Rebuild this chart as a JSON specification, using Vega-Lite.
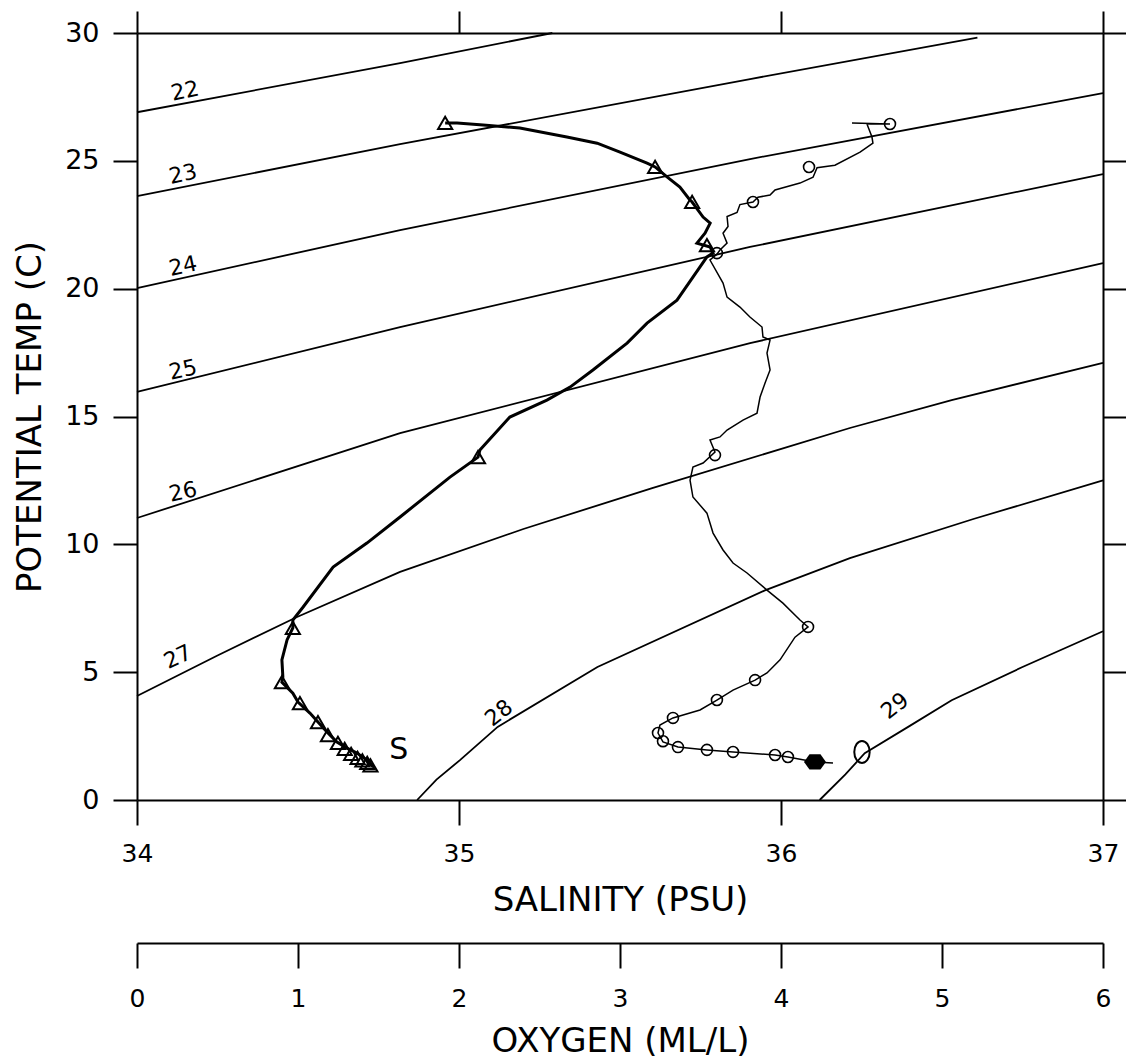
{
  "$schema": "https://vega.github.io/schema/vega-lite/v6.json",
  "width": 966,
  "height": 767,
  "autosize": {"type": "none"},
  "padding": {"left": 137, "top": 33, "right": 23, "bottom": 263},
  "background": "white",
  "config": {
    "view": {"stroke": null},
    "axis": {
      "grid": false,
      "labelFlush": false,
      "labelOverlap": false,
      "domainColor": "black",
      "domainWidth": 2,
      "tickColor": "black",
      "tickWidth": 2,
      "labelColor": "black",
      "titleColor": "black",
      "labelFont": "DejaVu Sans",
      "titleFont": "DejaVu Sans",
      "titleFontWeight": "normal"
    }
  },
  "datasets": {
    "contours": [
      {"sigma": 22, "S": 34.0, "T": 26.9},
      {"sigma": 22, "S": 34.817, "T": 28.82},
      {"sigma": 22, "S": 35.29, "T": 30.0},
      {"sigma": 23, "S": 34.0, "T": 23.62},
      {"sigma": 23, "S": 34.817, "T": 25.65},
      {"sigma": 23, "S": 35.904, "T": 28.2},
      {"sigma": 23, "S": 36.61, "T": 29.82},
      {"sigma": 24, "S": 34.0, "T": 20.02},
      {"sigma": 24, "S": 34.817, "T": 22.29},
      {"sigma": 24, "S": 35.904, "T": 25.07},
      {"sigma": 24, "S": 37.0, "T": 27.65},
      {"sigma": 25, "S": 34.0, "T": 15.96},
      {"sigma": 25, "S": 34.817, "T": 18.5},
      {"sigma": 25, "S": 35.904, "T": 21.63},
      {"sigma": 25, "S": 37.0, "T": 24.48},
      {"sigma": 26, "S": 34.0, "T": 11.03},
      {"sigma": 26, "S": 34.817, "T": 14.35},
      {"sigma": 26, "S": 35.904, "T": 17.87},
      {"sigma": 26, "S": 37.0, "T": 21.0},
      {"sigma": 27, "S": 34.0, "T": 4.07},
      {"sigma": 27, "S": 34.25, "T": 5.65},
      {"sigma": 27, "S": 34.497, "T": 7.16},
      {"sigma": 27, "S": 34.817, "T": 8.92},
      {"sigma": 27, "S": 35.2, "T": 10.6},
      {"sigma": 27, "S": 35.6, "T": 12.2},
      {"sigma": 27, "S": 36.214, "T": 14.55},
      {"sigma": 27, "S": 36.53, "T": 15.64},
      {"sigma": 27, "S": 37.0, "T": 17.1},
      {"sigma": 28, "S": 34.87, "T": 0.0},
      {"sigma": 28, "S": 34.93, "T": 0.8},
      {"sigma": 28, "S": 35.003, "T": 1.56},
      {"sigma": 28, "S": 35.12, "T": 2.86},
      {"sigma": 28, "S": 35.43, "T": 5.2},
      {"sigma": 28, "S": 35.95, "T": 8.2},
      {"sigma": 28, "S": 36.214, "T": 9.46},
      {"sigma": 28, "S": 36.6, "T": 11.0},
      {"sigma": 28, "S": 37.0, "T": 12.5},
      {"sigma": 29, "S": 36.12, "T": 0.0},
      {"sigma": 29, "S": 36.2, "T": 1.0},
      {"sigma": 29, "S": 36.26, "T": 1.83},
      {"sigma": 29, "S": 36.4, "T": 2.9},
      {"sigma": 29, "S": 36.53, "T": 3.9},
      {"sigma": 29, "S": 36.75, "T": 5.2},
      {"sigma": 29, "S": 37.0, "T": 6.6}
    ],
    "labels": [
      {"label": "22", "S": 34.149, "T": 27.73},
      {"label": "23", "S": 34.143, "T": 24.48},
      {"label": "24", "S": 34.143, "T": 20.88},
      {"label": "25", "S": 34.143, "T": 16.82},
      {"label": "26", "S": 34.143, "T": 12.05},
      {"label": "27", "S": 34.127, "T": 5.59},
      {"label": "28", "S": 35.124, "T": 3.4},
      {"label": "29", "S": 36.354, "T": 3.68}
    ],
    "salinity": [
      {"i": 1, "S": 34.957, "T": 26.48},
      {"i": 2, "S": 34.994, "T": 26.48},
      {"i": 3, "S": 35.075, "T": 26.4},
      {"i": 4, "S": 35.189, "T": 26.28},
      {"i": 5, "S": 35.335, "T": 25.93},
      {"i": 6, "S": 35.429, "T": 25.69},
      {"i": 7, "S": 35.5, "T": 25.34},
      {"i": 8, "S": 35.584, "T": 24.91},
      {"i": 9, "S": 35.609, "T": 24.76},
      {"i": 10, "S": 35.646, "T": 24.37},
      {"i": 11, "S": 35.686, "T": 23.97},
      {"i": 12, "S": 35.717, "T": 23.47},
      {"i": 13, "S": 35.724, "T": 23.39},
      {"i": 14, "S": 35.758, "T": 22.8},
      {"i": 15, "S": 35.78, "T": 22.56},
      {"i": 16, "S": 35.764, "T": 22.17},
      {"i": 17, "S": 35.739, "T": 21.78},
      {"i": 18, "S": 35.78, "T": 21.63},
      {"i": 19, "S": 35.789, "T": 21.39},
      {"i": 20, "S": 35.77, "T": 21.24},
      {"i": 21, "S": 35.677, "T": 19.55},
      {"i": 22, "S": 35.584, "T": 18.65},
      {"i": 23, "S": 35.522, "T": 17.87},
      {"i": 24, "S": 35.416, "T": 16.82},
      {"i": 25, "S": 35.345, "T": 16.15},
      {"i": 26, "S": 35.273, "T": 15.64},
      {"i": 27, "S": 35.158, "T": 14.98},
      {"i": 28, "S": 35.065, "T": 13.69},
      {"i": 29, "S": 35.059, "T": 13.41},
      {"i": 30, "S": 34.972, "T": 12.63},
      {"i": 31, "S": 34.817, "T": 11.07},
      {"i": 32, "S": 34.714, "T": 10.05},
      {"i": 33, "S": 34.609, "T": 9.11},
      {"i": 34, "S": 34.516, "T": 7.55},
      {"i": 35, "S": 34.484, "T": 7.04},
      {"i": 36, "S": 34.484, "T": 6.73},
      {"i": 37, "S": 34.466, "T": 6.26},
      {"i": 38, "S": 34.45, "T": 5.48},
      {"i": 39, "S": 34.453, "T": 4.81},
      {"i": 40, "S": 34.45, "T": 4.61},
      {"i": 41, "S": 34.484, "T": 4.18},
      {"i": 42, "S": 34.5, "T": 3.83},
      {"i": 43, "S": 34.537, "T": 3.4},
      {"i": 44, "S": 34.562, "T": 3.05},
      {"i": 45, "S": 34.593, "T": 2.62},
      {"i": 46, "S": 34.621, "T": 2.27},
      {"i": 47, "S": 34.652, "T": 2.03},
      {"i": 48, "S": 34.683, "T": 1.84},
      {"i": 49, "S": 34.714, "T": 1.56},
      {"i": 50, "S": 34.733, "T": 1.29}
    ],
    "triangles": [
      {"S": 34.957, "T": 26.48},
      {"S": 35.609, "T": 24.76},
      {"S": 35.724, "T": 23.39},
      {"S": 35.77, "T": 21.7},
      {"S": 35.059, "T": 13.41},
      {"S": 34.484, "T": 6.73},
      {"S": 34.45, "T": 4.61},
      {"S": 34.506, "T": 3.79},
      {"S": 34.562, "T": 3.05},
      {"S": 34.593, "T": 2.54},
      {"S": 34.624, "T": 2.23},
      {"S": 34.645, "T": 2.0},
      {"S": 34.665, "T": 1.8},
      {"S": 34.685, "T": 1.65},
      {"S": 34.7, "T": 1.55},
      {"S": 34.715, "T": 1.45},
      {"S": 34.725, "T": 1.35}
    ],
    "oxygen": [
      {"i": 1, "O": 4.441, "T": 26.48},
      {"i": 2, "O": 4.677, "T": 26.44},
      {"i": 3, "O": 4.534, "T": 26.44},
      {"i": 4, "O": 4.565, "T": 25.93},
      {"i": 5, "O": 4.571, "T": 25.69},
      {"i": 6, "O": 4.491, "T": 25.34},
      {"i": 7, "O": 4.335, "T": 24.83},
      {"i": 8, "O": 4.224, "T": 24.73},
      {"i": 9, "O": 4.199, "T": 24.36},
      {"i": 10, "O": 4.118, "T": 24.13},
      {"i": 11, "O": 3.963, "T": 23.86},
      {"i": 12, "O": 3.932, "T": 23.66},
      {"i": 13, "O": 3.857, "T": 23.58},
      {"i": 14, "O": 3.826, "T": 23.39},
      {"i": 15, "O": 3.745, "T": 23.29},
      {"i": 16, "O": 3.727, "T": 22.98},
      {"i": 17, "O": 3.665, "T": 22.82},
      {"i": 18, "O": 3.671, "T": 22.43},
      {"i": 19, "O": 3.64, "T": 22.17},
      {"i": 20, "O": 3.665, "T": 21.78},
      {"i": 21, "O": 3.621, "T": 21.51},
      {"i": 22, "O": 3.602, "T": 21.35},
      {"i": 23, "O": 3.559, "T": 21.12},
      {"i": 24, "O": 3.64, "T": 20.22},
      {"i": 25, "O": 3.665, "T": 19.67},
      {"i": 26, "O": 3.745, "T": 19.28},
      {"i": 27, "O": 3.807, "T": 18.89},
      {"i": 28, "O": 3.882, "T": 18.5},
      {"i": 29, "O": 3.888, "T": 18.11},
      {"i": 30, "O": 3.932, "T": 17.99},
      {"i": 31, "O": 3.913, "T": 17.48},
      {"i": 32, "O": 3.932, "T": 16.82},
      {"i": 33, "O": 3.901, "T": 16.31},
      {"i": 34, "O": 3.87, "T": 15.76},
      {"i": 35, "O": 3.851, "T": 15.13},
      {"i": 36, "O": 3.764, "T": 14.86},
      {"i": 37, "O": 3.665, "T": 14.47},
      {"i": 38, "O": 3.621, "T": 14.2},
      {"i": 39, "O": 3.559, "T": 14.08},
      {"i": 40, "O": 3.59, "T": 13.61},
      {"i": 41, "O": 3.516, "T": 13.18},
      {"i": 42, "O": 3.453, "T": 13.02},
      {"i": 43, "O": 3.435, "T": 12.51},
      {"i": 44, "O": 3.453, "T": 11.85},
      {"i": 45, "O": 3.54, "T": 11.22},
      {"i": 46, "O": 3.578, "T": 10.44},
      {"i": 47, "O": 3.64, "T": 9.78},
      {"i": 48, "O": 3.702, "T": 9.27},
      {"i": 49, "O": 3.789, "T": 8.88},
      {"i": 50, "O": 3.913, "T": 8.21},
      {"i": 51, "O": 4.012, "T": 7.7},
      {"i": 52, "O": 4.118, "T": 7.04},
      {"i": 53, "O": 4.168, "T": 6.77},
      {"i": 54, "O": 4.087, "T": 6.37},
      {"i": 55, "O": 3.994, "T": 5.48},
      {"i": 56, "O": 3.913, "T": 4.97},
      {"i": 57, "O": 3.839, "T": 4.69},
      {"i": 58, "O": 3.702, "T": 4.3},
      {"i": 59, "O": 3.602, "T": 3.91},
      {"i": 60, "O": 3.497, "T": 3.52},
      {"i": 61, "O": 3.329, "T": 3.21},
      {"i": 62, "O": 3.248, "T": 2.93},
      {"i": 63, "O": 3.236, "T": 2.62},
      {"i": 64, "O": 3.267, "T": 2.27},
      {"i": 65, "O": 3.36, "T": 2.07},
      {"i": 66, "O": 3.54, "T": 1.96},
      {"i": 67, "O": 3.702, "T": 1.88},
      {"i": 68, "O": 3.963, "T": 1.76},
      {"i": 69, "O": 4.043, "T": 1.68},
      {"i": 70, "O": 4.211, "T": 1.49},
      {"i": 71, "O": 4.323, "T": 1.45}
    ],
    "circles": [
      {"O": 4.677, "T": 26.44},
      {"O": 4.174, "T": 24.76},
      {"O": 3.826, "T": 23.39},
      {"O": 3.602, "T": 21.39},
      {"O": 3.59, "T": 13.49},
      {"O": 4.168, "T": 6.77},
      {"O": 3.839, "T": 4.69},
      {"O": 3.602, "T": 3.91},
      {"O": 3.329, "T": 3.21},
      {"O": 3.236, "T": 2.62},
      {"O": 3.267, "T": 2.3},
      {"O": 3.36, "T": 2.07},
      {"O": 3.54, "T": 1.96},
      {"O": 3.702, "T": 1.88},
      {"O": 3.963, "T": 1.76},
      {"O": 4.043, "T": 1.68}
    ],
    "bottomO2": [{"O": 4.211, "T": 1.49}],
    "bigmark": [{"O": 4.503, "T": 1.88}]
  },
  "layer": [
    {
      "data": {"name": "contours"},
      "mark": {"type": "line", "stroke": "black", "strokeWidth": 1.8},
      "encoding": {
        "x": {"field": "S", "type": "quantitative", "scale": {"domain": [34, 37], "nice": false, "zero": false},
          "axis": {"orient": "bottom", "values": [34, 35, 36, 37], "tickSize": 25, "labelFontSize": 25, "labelPadding": 16,
            "title": "SALINITY (PSU)", "titleFontSize": 34, "titleY": 110, "titleBaseline": "alphabetic"}},
        "y": {"field": "T", "type": "quantitative", "scale": {"domain": [0, 30], "nice": false, "zero": false},
          "axis": {"orient": "left", "values": [0, 5, 10, 15, 20, 25, 30], "tickSize": 24, "labelFontSize": 27, "labelPadding": 14,
            "title": "POTENTIAL TEMP (C)", "titleFontSize": 34, "titleX": -97, "titleBaseline": "alphabetic"}},
        "detail": {"field": "sigma", "type": "nominal"}
      }
    },
    {
      "data": {"name": "contours"},
      "mark": {"type": "point", "opacity": 0},
      "encoding": {
        "x": {"field": "S", "type": "quantitative", "scale": {"domain": [34, 37], "nice": false, "zero": false},
          "axis": {"orient": "top", "values": [34, 35, 36, 37], "tickSize": 22, "labels": false, "title": null}},
        "y": {"field": "T", "type": "quantitative", "scale": {"domain": [0, 30], "nice": false, "zero": false},
          "axis": {"orient": "right", "values": [0, 5, 10, 15, 20, 25, 30], "tickSize": 23, "labels": false, "title": null}}
      }
    },
    {
      "data": {"name": "labels"},
      "transform": [{"filter": "datum.label <= '26'"}],
      "mark": {"type": "text", "font": "DejaVu Sans", "fontSize": 22, "angle": 348, "color": "black"},
      "encoding": {
        "x": {"field": "S", "type": "quantitative", "scale": {"domain": [34, 37], "nice": false, "zero": false}, "axis": null},
        "y": {"field": "T", "type": "quantitative", "scale": {"domain": [0, 30], "nice": false, "zero": false}, "axis": null},
        "text": {"field": "label"}
      }
    },
    {
      "data": {"name": "labels"},
      "transform": [{"filter": "datum.label == '27'"}],
      "mark": {"type": "text", "font": "DejaVu Sans", "fontSize": 22, "angle": 335, "color": "black"},
      "encoding": {
        "x": {"field": "S", "type": "quantitative", "scale": {"domain": [34, 37], "nice": false, "zero": false}, "axis": null},
        "y": {"field": "T", "type": "quantitative", "scale": {"domain": [0, 30], "nice": false, "zero": false}, "axis": null},
        "text": {"field": "label"}
      }
    },
    {
      "data": {"name": "labels"},
      "transform": [{"filter": "datum.label >= '28'"}],
      "mark": {"type": "text", "font": "DejaVu Sans", "fontSize": 22, "angle": 322, "color": "black"},
      "encoding": {
        "x": {"field": "S", "type": "quantitative", "scale": {"domain": [34, 37], "nice": false, "zero": false}, "axis": null},
        "y": {"field": "T", "type": "quantitative", "scale": {"domain": [0, 30], "nice": false, "zero": false}, "axis": null},
        "text": {"field": "label"}
      }
    },
    {
      "data": {"name": "salinity"},
      "mark": {"type": "line", "stroke": "black", "strokeWidth": 3},
      "encoding": {
        "x": {"field": "S", "type": "quantitative", "scale": {"domain": [34, 37], "nice": false, "zero": false}, "axis": null},
        "y": {"field": "T", "type": "quantitative", "scale": {"domain": [0, 30], "nice": false, "zero": false}, "axis": null},
        "order": {"field": "i", "type": "quantitative"}
      }
    },
    {
      "data": {"name": "triangles"},
      "mark": {"type": "point", "shape": "triangle-up", "filled": false, "stroke": "black", "strokeWidth": 2, "size": 200, "opacity": 1},
      "encoding": {
        "x": {"field": "S", "type": "quantitative", "scale": {"domain": [34, 37], "nice": false, "zero": false}, "axis": null},
        "y": {"field": "T", "type": "quantitative", "scale": {"domain": [0, 30], "nice": false, "zero": false}, "axis": null}
      }
    },
    {
      "data": {"values": [{"label": "S", "S": 34.783, "T": 1.96}]},
      "mark": {"type": "text", "font": "DejaVu Sans", "fontSize": 30, "align": "left", "baseline": "middle", "color": "black"},
      "encoding": {
        "x": {"field": "S", "type": "quantitative", "scale": {"domain": [34, 37], "nice": false, "zero": false}, "axis": null},
        "y": {"field": "T", "type": "quantitative", "scale": {"domain": [0, 30], "nice": false, "zero": false}, "axis": null},
        "text": {"field": "label"}
      }
    },
    {
      "data": {"name": "oxygen"},
      "mark": {"type": "line", "stroke": "black", "strokeWidth": 1.5},
      "encoding": {
        "x": {"field": "O", "type": "quantitative", "scale": {"domain": [0, 6], "nice": false, "zero": false},
          "axis": {"orient": "bottom", "offset": 143, "values": [0, 1, 2, 3, 4, 5, 6], "tickSize": 25, "labelFontSize": 25, "labelPadding": 18,
            "title": "OXYGEN (ML/L)", "titleFontSize": 34, "titleY": 108, "titleBaseline": "alphabetic"}},
        "y": {"field": "T", "type": "quantitative", "scale": {"domain": [0, 30], "nice": false, "zero": false}, "axis": null},
        "order": {"field": "i", "type": "quantitative"}
      }
    },
    {
      "data": {"name": "circles"},
      "mark": {"type": "point", "shape": "circle", "filled": false, "stroke": "black", "strokeWidth": 1.6, "size": 120, "opacity": 1},
      "encoding": {
        "x": {"field": "O", "type": "quantitative", "scale": {"domain": [0, 6], "nice": false, "zero": false}, "axis": null},
        "y": {"field": "T", "type": "quantitative", "scale": {"domain": [0, 30], "nice": false, "zero": false}, "axis": null}
      }
    },
    {
      "data": {"name": "bottomO2"},
      "mark": {"type": "point", "shape": "M-1,0L-0.5,-0.7L0.5,-0.7L1,0L0.5,0.7L-0.5,0.7Z", "filled": true, "fill": "black", "size": 484, "opacity": 1},
      "encoding": {
        "x": {"field": "O", "type": "quantitative", "scale": {"domain": [0, 6], "nice": false, "zero": false}, "axis": null},
        "y": {"field": "T", "type": "quantitative", "scale": {"domain": [0, 30], "nice": false, "zero": false}, "axis": null}
      }
    },
    {
      "data": {"name": "bigmark"},
      "mark": {"type": "point", "shape": "M0,-1A0.7,1 0 1,1 0,1A0.7,1 0 1,1 0,-1Z", "filled": false, "stroke": "black", "strokeWidth": 2, "size": 484, "opacity": 1},
      "encoding": {
        "x": {"field": "O", "type": "quantitative", "scale": {"domain": [0, 6], "nice": false, "zero": false}, "axis": null},
        "y": {"field": "T", "type": "quantitative", "scale": {"domain": [0, 30], "nice": false, "zero": false}, "axis": null}
      }
    }
  ],
  "resolve": {"scale": {"x": "independent"}, "axis": {"x": "independent", "y": "independent"}}
}
